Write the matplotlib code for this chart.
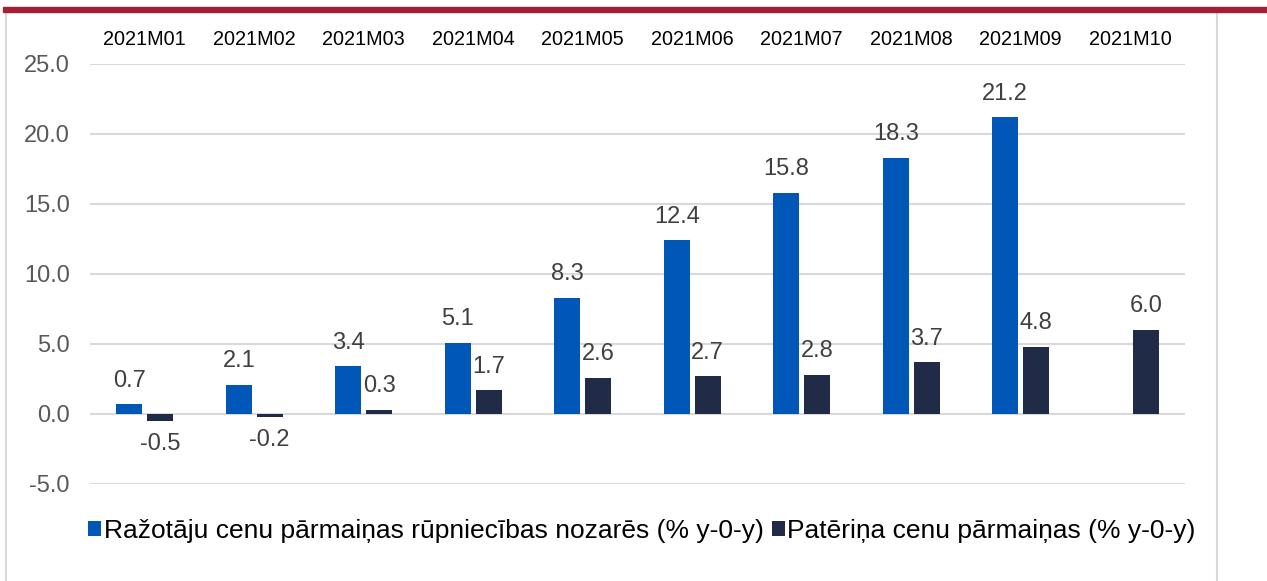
import numpy as np
import matplotlib.pyplot as plt
from matplotlib.patches import Rectangle

plt.rcParams["font.family"] = ["Liberation Sans", "DejaVu Sans"]

months = ["2021M01", "2021M02", "2021M03", "2021M04", "2021M05",
          "2021M06", "2021M07", "2021M08", "2021M09", "2021M10"]
producer = [0.7, 2.1, 3.4, 5.1, 8.3, 12.4, 15.8, 18.3, 21.2, np.nan]
consumer = [-0.5, -0.2, 0.3, 1.7, 2.6, 2.7, 2.8, 3.7, 4.8, 6.0]
producer_label = "Ražotāju cenu pārmaiņas rūpniecības nozarēs (% y-0-y)"
consumer_label = "Patēriņa cenu pārmaiņas (% y-0-y)"

BLUE = "#0057b8"
DARK = "#1f2b47"
GRID = "#d9d9d9"
TXT = "#404040"

fig = plt.figure(figsize=(12.67, 5.81), dpi=100)

# red bar and chart frame
fig.patches.append(Rectangle((3 / 1267, 1 - 12 / 581), 1 - 3 / 1267, 5 / 581,
                             transform=fig.transFigure, color="#a21f35", zorder=5))
fig.patches.append(Rectangle((6 / 1267, -0.01), 1211 / 1267, 1 - 12 / 581 + 0.01,
                             transform=fig.transFigure, facecolor="white",
                             edgecolor="#d9d9d9", linewidth=1.5, zorder=-1))

ax = fig.add_axes([90 / 1267, 1 - 484 / 581, 1095 / 1267, 420 / 581])
ax.set_facecolor("none")
ax.set_zorder(2)

x = np.arange(len(months))
w = 0.237
off = 0.141
b1 = ax.bar(x - off, producer, w, color=BLUE, label=producer_label, zorder=3)
b2 = ax.bar(x + off, consumer, w, color=DARK, label=consumer_label, zorder=3)

for xs, vals in ((x - off, producer), (x + off, consumer)):
    for xi, v in zip(xs, vals):
        if np.isnan(v):
            continue
        dy = 9 if v >= 0 else -9
        ax.annotate(f"{v:.1f}", (xi, v), xytext=(0, dy), textcoords="offset points",
                    ha="center", va="bottom" if v >= 0 else "top",
                    fontsize=17, color=TXT)

ax.set_xlim(-0.5, len(months) - 0.5)
ax.set_ylim(-5, 25)
ax.set_yticks(np.arange(-5, 26, 5))
ax.set_yticklabels([f"{t:.1f}" for t in np.arange(-5, 26, 5)], fontsize=17, color="#595959")
ax.yaxis.grid(True, color=GRID, linewidth=1.5, zorder=0)
ax.set_axisbelow(True)

ax.set_xticks(x)
ax.set_xticklabels(months, fontsize=14.3, color="black")
ax.xaxis.tick_top()
ax.tick_params(axis="x", length=0, pad=11)
ax.tick_params(axis="y", length=0, pad=14.5)
for s in ax.spines.values():
    s.set_visible(False)

leg = fig.legend(handles=[b1, b2], loc="center left", bbox_to_anchor=(88 / 1267, 1 - 531 / 581),
                 ncol=2, frameon=False, fontsize=19, handlelength=0.5, handleheight=0.5,
                 handletextpad=0.1, columnspacing=0.3, borderaxespad=0, borderpad=0)

fig.savefig("out.png", dpi=100)
